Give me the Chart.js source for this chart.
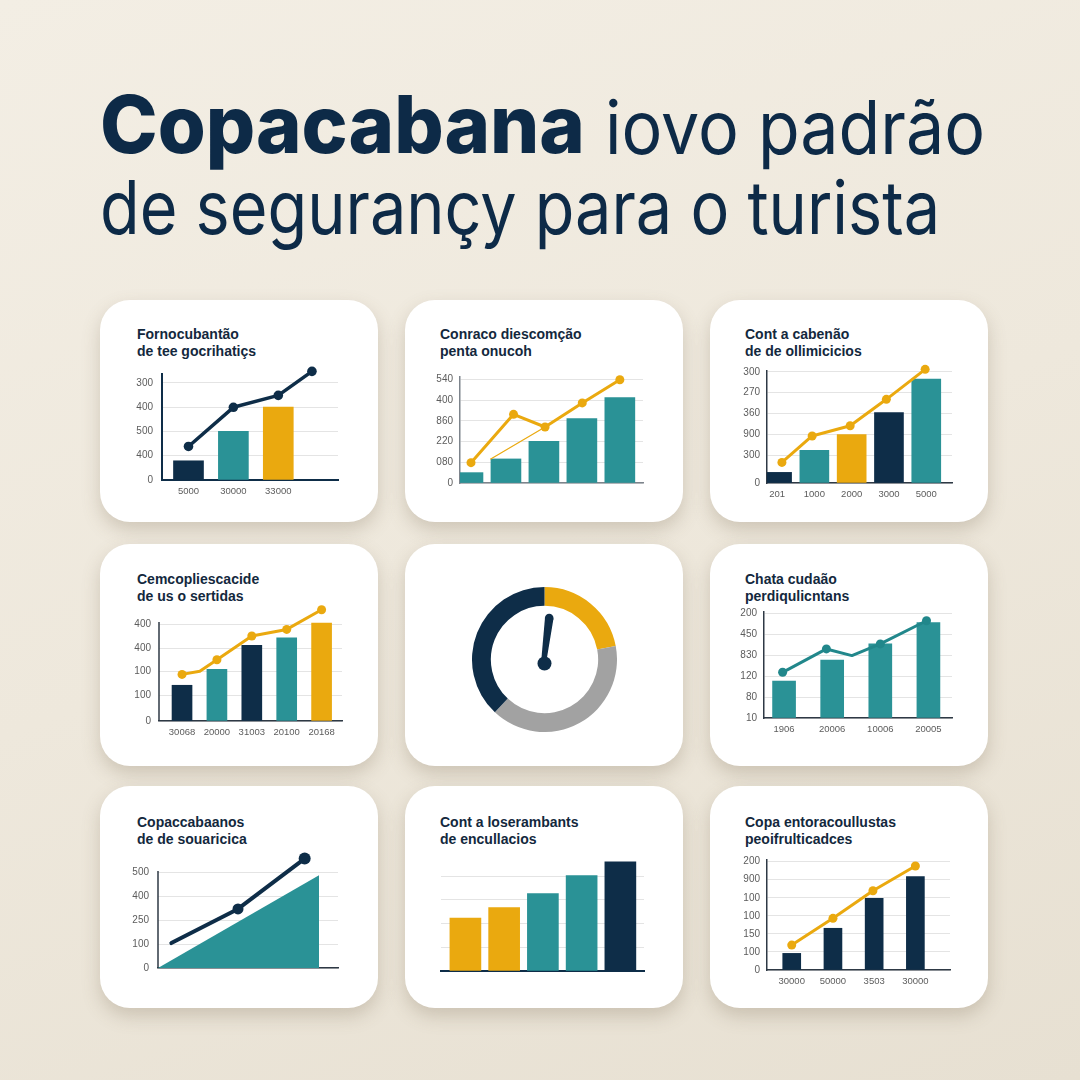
<!DOCTYPE html>
<html>
<head>
<meta charset="utf-8">
<script src="https://cdn.jsdelivr.net/npm/chart.js@4.4.1/dist/chart.umd.min.js"></script>
<style>
html, body { margin: 0; padding: 0; }
body {
    width: 1080px; height: 1080px; position: relative; overflow: hidden;
    background: linear-gradient(160deg, #f3eee4 0%, #eee8dc 50%, #e7e0d2 100%);
    font-family: 'Liberation Sans', Arial, sans-serif;
}
.big { position: absolute; color: #0d2a47; white-space: nowrap; transform-origin: 0 0; font-family: Inter, sans-serif; line-height: 1; }
.card { position: absolute; width: 278px; height: 222px; border-radius: 30px; background: #fff; box-shadow: 0 8px 18px rgba(110, 95, 70, .25); }
.ct { position: absolute; font: bold 14px 'Liberation Sans', Arial, sans-serif; color: #13283d; line-height: 16.5px; white-space: nowrap; }
canvas { position: absolute; }
</style>
</head>
<body>
<div class="big" id="t1a" style="left:100px;top:84px;font-size:80px;font-weight:800;">Copacabana</div>
<div class="big" id="t1b" style="left:605px;top:90px;font-size:74px;font-weight:400;">iovo padrão</div>
<div class="big" id="t2" style="left:100px;top:170px;font-size:74px;font-weight:400;">de segurançy para o turista</div>

<script>
const NAVY = '#0e2d48', TEAL = '#2a9296', GOLD = '#eaa90f', GREY = '#a2a2a2';

// card titles
const cardTitles = [
    ['Fornocubantão', 'de tee gocrihatiçs'],
    ['Conraco diescomção', 'penta onucoh'],
    ['Cont a cabenão', 'de de ollimicicios'],
    ['Cemcopliescacide', 'de us o sertidas'],
    null,
    ['Chata cudaão', 'perdiqulicntans'],
    ['Copaccabaanos', 'de de souaricica'],
    ['Cont a loserambants', 'de encullacios'],
    ['Copa entoracoullustas', 'peoifrulticadces']
];

// card 1
const c1Labels = ['5000', '30000', '33000'];
const c1Bars = [0.79, 2.0, 3.0];
const c1LineX = [0, 1, 2, 2.75];
const c1Line = [1.38, 2.99, 3.48, 4.47];
const c1YLabels = ['0', '400', '500', '400', '300'];

// card 2
const c2Bars = [0.5, 1.16, 2.01, 3.1, 4.12];
const c2LineX = [0.08, 1.2, 2.03, 3.01, 4.0];
const c2Line = [0.98, 3.31, 2.7, 3.86, 4.98];
const c2ThinX = [0.6, 2.03];
const c2Thin = [1.16, 2.7];
const c2YLabels = ['0', '080', '220', '860', '400', '540'];

// card 3
const c3Labels = ['201', '1000', '2000', '3000', '5000'];
const c3Bars = [0.51, 1.57, 2.32, 3.38, 4.99];
const c3LineX = [0.13, 0.94, 1.96, 2.93, 3.97];
const c3Line = [0.99, 2.26, 2.75, 4.02, 5.46];
const c3YTicks = [0, 1.34, 2.34, 3.33, 4.34, 5.34];
const c3YLabels = ['0', '300', '900', '360', '270', '300'];

// card 4
const c4Labels = ['30068', '20000', '31003', '20100', '20168'];
const c4Bars = [1.51, 2.18, 3.2, 3.52, 4.14];
const c4LineX = [0, 0.51, 1, 2, 3, 4];
const c4Line = [1.97, 2.1, 2.59, 3.59, 3.87, 4.7];
const c4YTicks = [0, 1.08, 2.1, 3.08, 4.07];
const c4YLabels = ['0', '100', '100', '400', '400'];

// card 5 (doughnut)
const c5Segments = [22, 40, 38];

// card 6
const c6Labels = ['1906', '20006', '10006', '20005'];
const c6Bars = [1.77, 2.78, 3.56, 4.57];
const c6LineX = [-0.03, 0.88, 1.41, 2.0, 2.96];
const c6Line = [2.19, 3.31, 2.99, 3.55, 4.66];
const c6YLabels = ['10', '80', '120', '830', '450', '200'];

// card 7
const c7AreaX = [-0.2, 2.215];
const c7Area = [0, 3.86];
const c7LineX = [0, 1, 2];
const c7Line = [1.04, 2.46, 4.56];
const c7YLabels = ['0', '100', '250', '400', '500'];

// card 8
const c8Bars = [2.24, 2.68, 3.27, 4.03, 4.61];
const c8YTicks = [0, 1, 2, 3, 4];

// card 9
const c9Labels = ['30000', '50000', '3503', '30000'];
const c9Bars = [0.92, 2.31, 3.97, 5.17];
const c9LineX = [0, 1, 1.97, 3];
const c9Line = [1.38, 2.86, 4.39, 5.76];
const c9YLabels = ['0', '100', '150', '100', '100', '900', '200'];

// title fitting
function fit(id, w) {
    const el = document.getElementById(id);
    const r = el.getBoundingClientRect();
    el.style.transform = 'scaleX(' + (w / r.width) + ')';
}
fit('t1a', 485);
fit('t1b', 380);
fit('t2', 840);

// cards
const cardX = [100, 405, 710], cardY = [300, 544, 786];
const titleLeft = [137, 440, 745];
const titleTop = [326, 571, 814];
cardY.forEach((y, r) => cardX.forEach((x, c) => {
    const d = document.createElement('div');
    d.className = 'card';
    d.style.left = x + 'px'; d.style.top = y + 'px';
    document.body.appendChild(d);
    const t = cardTitles[r * 3 + c];
    if (t) {
        const e = document.createElement('div');
        e.className = 'ct';
        e.style.left = titleLeft[c] + 'px'; e.style.top = titleTop[r] + 'px';
        e.innerHTML = t.join('<br>');
        document.body.appendChild(e);
    }
}));

function pts(xs, ys) { return xs.map((x, i) => ({ x: x, y: ys[i] })); }

// short y axis line, when the plot is taller than the axis
const shortAxis = {
    id: 'shortAxis',
    beforeDatasetsDraw(chart, args, opts) {
        if (opts.top == null) return;
        const y = chart.scales.y, ctx = chart.ctx, x = chart.chartArea.left;
        ctx.save();
        ctx.strokeStyle = opts.color; ctx.lineWidth = opts.width;
        ctx.beginPath();
        ctx.moveTo(x, y.getPixelForValue(0));
        ctx.lineTo(x, y.getPixelForValue(opts.top));
        ctx.stroke();
        ctx.restore();
    }
};

function axesChart(cfg) {
    const YW = 46, XH = 24, PT = 16, PR = 14;
    const w = cfg.right - cfg.left, h = cfg.bottom - cfg.top;
    const cv = document.createElement('canvas');
    cv.width = w + YW + PR; cv.height = h + PT + XH;
    cv.style.left = (cfg.left - YW) + 'px';
    cv.style.top = (cfg.top - PT) + 'px';
    document.body.appendChild(cv);

    const yTicks = cfg.yTicks || cfg.yLabels.map((l, i) => i);
    const xLabels = cfg.xLabels || [];
    const tickFont = { family: 'Liberation Sans', size: 9.5 };
    const axisColor = cfg.axisColor || '#2e3945', axisWidth = cfg.axisWidth || 1.5;

    new Chart(cv, {
        type: 'bar',
        data: { datasets: cfg.datasets },
        options: {
            responsive: false,
            animation: false,
            layout: { padding: { top: PT, right: PR, left: 0, bottom: 0 } },
            plugins: {
                legend: { display: false }, tooltip: { enabled: false },
                shortAxis: { top: cfg.axisTop, color: axisColor, width: axisWidth }
            },
            scales: {
                x: {
                    type: 'linear', min: cfg.xMin, max: cfg.xMax, offset: false,
                    grid: { display: false, drawTicks: false, offset: false },
                    border: { display: true, color: axisColor, width: axisWidth },
                    ticks: {
                        display: xLabels.length > 0, autoSkip: false, maxRotation: 0, padding: 6,
                        color: '#5c5c5c', font: tickFont,
                        callback: v => xLabels[v]
                    },
                    afterBuildTicks: s => { s.ticks = xLabels.map((l, i) => ({ value: i })); },
                    afterFit: s => { s.height = XH; s.paddingLeft = 0; s.paddingRight = 0; }
                },
                y: {
                    type: 'linear', min: 0, max: cfg.yMax,
                    grid: { color: '#e4e4e4', lineWidth: 1, drawTicks: false },
                    border: { display: cfg.yBorder !== false && cfg.axisTop == null, color: axisColor, width: axisWidth },
                    ticks: {
                        display: !!cfg.yLabels, padding: cfg.yGap || 7,
                        color: '#5c5c5c', font: { family: 'Liberation Sans', size: 10 },
                        callback: (v, i) => cfg.yLabels ? cfg.yLabels[i] : ''
                    },
                    afterBuildTicks: s => { s.ticks = yTicks.map(v => ({ value: v })); },
                    afterFit: s => { s.width = YW; s.paddingTop = 0; s.paddingBottom = 0; }
                }
            }
        },
        plugins: [shortAxis]
    });
}

function bars(values, colors, thickness) {
    return {
        type: 'bar', order: 2,
        data: values.map((v, i) => ({ x: i, y: v })),
        backgroundColor: colors, barThickness: thickness, borderWidth: 0
    };
}
function line(xs, ys, color, width, radius) {
    return {
        type: 'line', order: 0, clip: false,
        data: pts(xs, ys),
        borderColor: color, borderWidth: width, tension: 0,
        borderCapStyle: 'round', borderJoinStyle: 'round',
        pointRadius: radius, pointBackgroundColor: color, pointBorderWidth: 0
    };
}

// card 1
axesChart({
    left: 162, right: 338, top: 374, bottom: 480, yMax: 4.36, xMin: -0.59, xMax: 3.33,
    xLabels: c1Labels, yLabels: c1YLabels, yGap: 9, axisColor: NAVY, axisWidth: 2,
    datasets: [
        bars(c1Bars, [NAVY, TEAL, GOLD], 30),
        line(c1LineX, c1Line, NAVY, 3.5, 4.8)
    ]
});

// card 2
axesChart({
    left: 460, right: 643, top: 377, bottom: 483, yMax: 5.11, xMin: -0.21, xMax: 4.61,
    yLabels: c2YLabels, yGap: 7, axisColor: '#7d848c',
    datasets: [
        bars(c2Bars, TEAL, 30),
        line(c2LineX, c2Line, GOLD, 3, 4.5),
        line(c2ThinX, c2Thin, GOLD, 1.2, 0)
    ]
});

// card 3
axesChart({
    left: 767, right: 952, top: 371, bottom: 483, yMax: 5.38, xMin: -0.27, xMax: 4.69,
    xLabels: c3Labels, yLabels: c3YLabels, yTicks: c3YTicks, yGap: 7,
    datasets: [
        bars(c3Bars, [NAVY, TEAL, GOLD, NAVY, TEAL], 29),
        line(c3LineX, c3Line, GOLD, 3, 4.5)
    ]
});

// card 4
axesChart({
    left: 159, right: 342, top: 606, bottom: 721, yMax: 4.86, axisTop: 4.18, xMin: -0.66, xMax: 4.585,
    xLabels: c4Labels, yLabels: c4YLabels, yTicks: c4YTicks, yGap: 8,
    datasets: [
        bars(c4Bars, [NAVY, TEAL, NAVY, TEAL, GOLD], 20),
        line(c4LineX, c4Line, GOLD, 3, [4.5, 0, 4.5, 4.5, 4.5, 4.5])
    ]
});

// card 6
axesChart({
    left: 764, right: 952, top: 612, bottom: 718, yMax: 5.08, xMin: -0.417, xMax: 3.49,
    xLabels: c6Labels, yLabels: c6YLabels, yGap: 7,
    datasets: [
        bars(c6Bars, TEAL, 23),
        line(c6LineX, c6Line, '#21878b', 3, [4.5, 4.5, 0, 4.5, 4.5])
    ]
});

// card 7
axesChart({
    left: 158, right: 338, top: 854, bottom: 968, yMax: 4.75, axisTop: 4.04, xMin: -0.2, xMax: 2.5,
    yLabels: c7YLabels, yGap: 9,
    datasets: [
        {
            type: 'line', order: 3, data: pts(c7AreaX, c7Area), fill: 'origin',
            backgroundColor: TEAL, borderWidth: 0, pointRadius: 0, tension: 0
        },
        line(c7LineX, c7Line, NAVY, 4, [0, 5.5, 6])
    ]
});

// card 8
axesChart({
    left: 441, right: 644, top: 860, bottom: 971, yMax: 4.69, xMin: -0.63, xMax: 4.61,
    yTicks: c8YTicks, yBorder: false, axisColor: NAVY, axisWidth: 2,
    datasets: [
        bars(c8Bars, [GOLD, GOLD, TEAL, TEAL, NAVY], 31)
    ]
});

// card 9
axesChart({
    left: 767, right: 950, top: 860, bottom: 970, yMax: 6.09, xMin: -0.6, xMax: 3.84,
    xLabels: c9Labels, yLabels: c9YLabels, yGap: 7,
    datasets: [
        bars(c9Bars, NAVY, 18),
        line(c9LineX, c9Line, GOLD, 3, 4.5)
    ]
});

// card 5: doughnut with needle
const needle = {
    id: 'needle',
    afterDatasetsDraw(chart) {
        const arc = chart.getDatasetMeta(0).data[0];
        const x = arc.x, y = arc.y, ctx = chart.ctx;
        ctx.save();
        ctx.fillStyle = NAVY;
        ctx.beginPath();
        ctx.moveTo(x - 3, y - 2);
        ctx.lineTo(x + 2.5, y - 2);
        ctx.lineTo(x + 9, y - 41);
        ctx.lineTo(x + 0.5, y - 42);
        ctx.closePath();
        ctx.fill();
        ctx.beginPath();
        ctx.arc(x + 4.7, y - 41.5, 4.3, 0, Math.PI * 2);
        ctx.fill();
        ctx.beginPath();
        ctx.arc(x, y + 4, 7, 0, Math.PI * 2);
        ctx.fill();
        ctx.restore();
    }
};
const dc = document.createElement('canvas');
dc.width = 145; dc.height = 145;
dc.style.left = '472px'; dc.style.top = '587px';
document.body.appendChild(dc);
new Chart(dc, {
    type: 'doughnut',
    data: {
        labels: ['A', 'B', 'C'],
        datasets: [{ data: c5Segments, backgroundColor: [GOLD, GREY, NAVY], borderWidth: 0 }]
    },
    options: {
        responsive: false, animation: false, cutout: '74%',
        plugins: { legend: { display: false }, tooltip: { enabled: false } }
    },
    plugins: [needle]
});
</script>
</body>
</html>
